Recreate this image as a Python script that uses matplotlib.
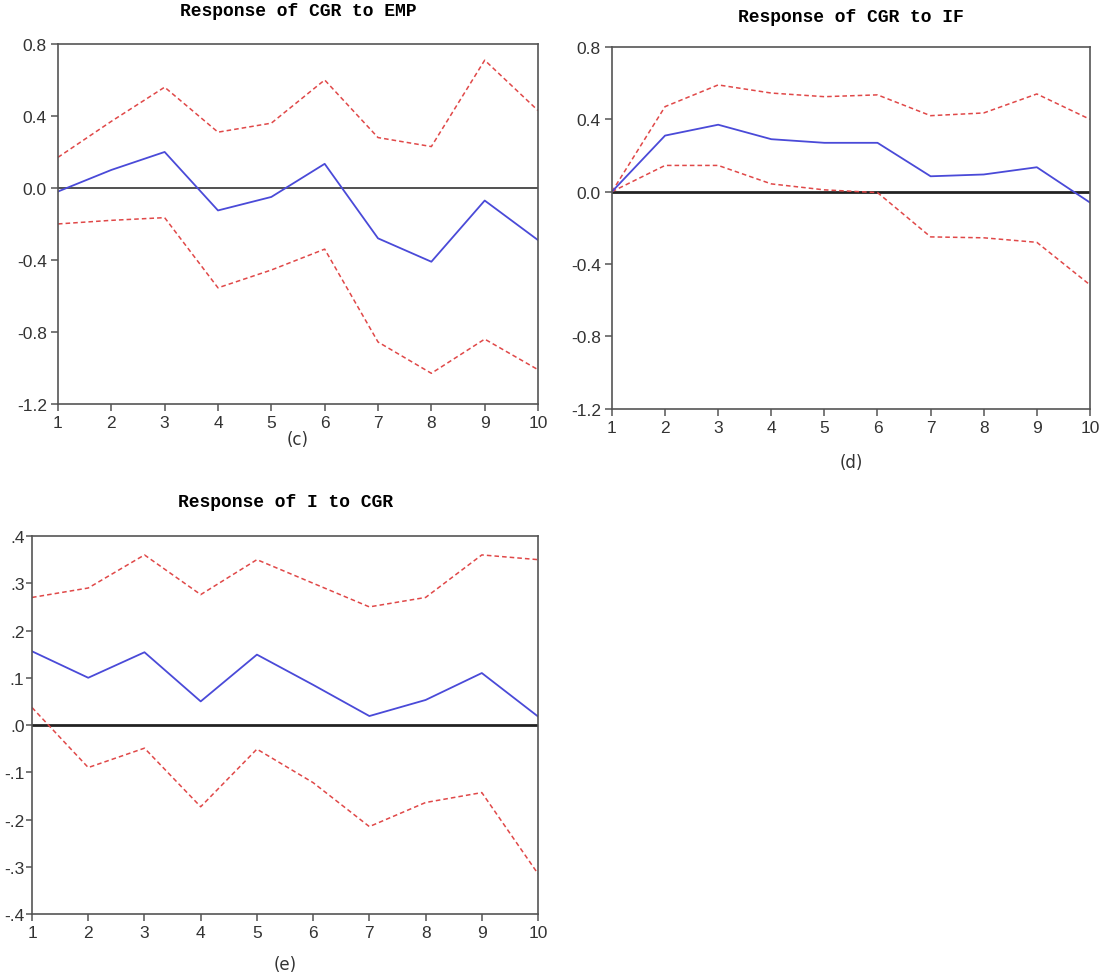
# -*- coding: utf-8 -*-
# Impulse responses (EViews style), three panels c / d / e

import matplotlib
matplotlib.use('Agg')
import matplotlib.pyplot as plt
import numpy as np

periods = np.arange(1, 11)

# (c) Response of CGR to EMP
c_resp = [-0.02, 0.10, 0.20, -0.125, -0.05, 0.134, -0.28, -0.41, -0.07, -0.29]
c_up = [0.17, 0.37, 0.56, 0.31, 0.36, 0.60, 0.28, 0.23, 0.71, 0.43]
c_lo = [-0.20, -0.18, -0.165, -0.555, -0.456, -0.34, -0.856, -1.03, -0.84, -1.01]

# (d) Response of CGR to IF
d_resp = [0.0, 0.31, 0.37, 0.29, 0.27, 0.27, 0.085, 0.095, 0.135, -0.06]
d_up = [0.0, 0.47, 0.59, 0.545, 0.525, 0.535, 0.42, 0.435, 0.54, 0.40]
d_lo = [0.0, 0.145, 0.145, 0.043, 0.01, -0.005, -0.25, -0.255, -0.28, -0.515]

# (e) Response of I to CGR
e_resp = [0.156, 0.10, 0.154, 0.05, 0.149, 0.085, 0.019, 0.053, 0.11, 0.018]
e_up = [0.27, 0.29, 0.36, 0.276, 0.35, 0.30, 0.25, 0.27, 0.36, 0.35]
e_lo = [0.037, -0.09, -0.049, -0.173, -0.051, -0.122, -0.215, -0.164, -0.143, -0.315]

c_yticks = [0.8, 0.4, 0.0, -0.4, -0.8, -1.2]
e_yticks = [0.4, 0.3, 0.2, 0.1, 0.0, -0.1, -0.2, -0.3, -0.4]

blue = '#4a4ad8'
red = '#e04848'
grey = '#555555'
title_font = dict(family='Liberation Mono', weight='bold', size=13)

fig = plt.figure(figsize=(11.08, 9.78), dpi=100, facecolor='w')


def panel(rect, resp, up, lo, yticks, ylabels, title, tag, title_y, tag_y, zlw):
    ax = fig.add_axes(rect)
    ax.plot(periods, up, color=red, lw=1.1, ls=(0, (3, 2)))
    ax.plot(periods, lo, color=red, lw=1.1, ls=(0, (3, 2)))
    ax.plot(periods, resp, color=blue, lw=1.3)
    ax.axhline(0, color='#222222', lw=zlw, zorder=1)
    ax.set_xlim(1, 10)
    ax.set_ylim(min(yticks), max(yticks))
    ax.set_xticks(periods)
    ax.set_yticks(yticks)
    ax.set_yticklabels(ylabels)
    for s in ax.spines.values():
        s.set_color(grey)
        s.set_linewidth(1.2)
    ax.tick_params(direction='out', length=5, width=1.1, color=grey,
                   labelcolor='#333333', labelsize=12.5, pad=3)
    for lb in ax.get_xticklabels() + ax.get_yticklabels():
        lb.set_family('Liberation Sans')
    cx = rect[0] + rect[2] / 2
    fig.text(cx, title_y, title, ha='center', va='center', **title_font)
    fig.text(cx, tag_y, tag, ha='center', va='center', fontsize=12,
             color='#333333', family='DejaVu Sans')
    return ax


panel([0.0523, 0.586, 0.4333, 0.368], c_resp, c_up, c_lo, c_yticks,
      ['%.1f' % v for v in c_yticks], 'Response of CGR to EMP', '(c)',
      1 - 12 / 978, 1 - 440 / 978, 1.1)

panel([0.5523, 0.581, 0.4314, 0.370], d_resp, d_up, d_lo, c_yticks,
      ['%.1f' % v for v in c_yticks], 'Response of CGR to IF', '(d)',
      1 - 18 / 978, 1 - 463 / 978, 2.0)

e_lab = [('%.1f' % v).replace('0.', '.') for v in e_yticks]
ax = panel([0.0289, 0.0644, 0.4567, 0.3865], e_resp, e_up, e_lo, e_yticks,
           e_lab, 'Response of I to CGR', '(e)',
           1 - 503 / 978, 1 - 965 / 978, 2.0)
ax.tick_params(axis='y', pad=1.5, length=4)

plt.savefig('out.png', dpi=100, facecolor='w')
